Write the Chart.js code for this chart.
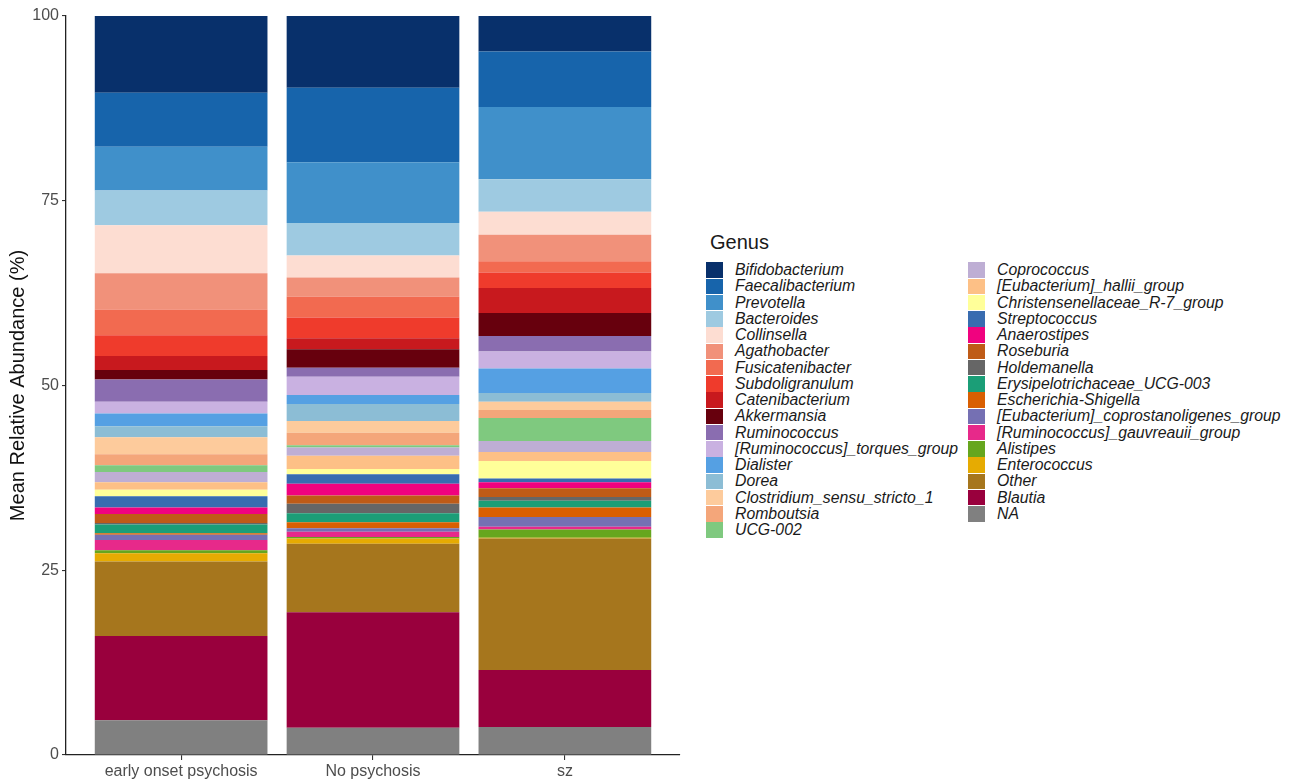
<!DOCTYPE html>
<html>
<head>
<meta charset="utf-8">
<script src="https://cdn.jsdelivr.net/npm/chart.js@4/dist/chart.umd.min.js"></script>
<style>
  html, body { margin: 0; padding: 0; background: #ffffff; }
  body { width: 1290px; height: 783px; position: relative; overflow: hidden;
         font-family: "Liberation Sans", Arial, sans-serif; }
  #plot { position: absolute; left: 0; top: 0; }
  #legend { position: absolute; left: 706px; top: 230px; color: #1a1a1a; }
  #legend .title { font-size: 20px; margin-left: 4px; height: 24px; line-height: 24px; margin-bottom: 8px; }
  #legend .cols { display: flex; }
  #legend .col { width: 262px; }
  #legend .item { display: flex; align-items: center; height: 16.25px; }
  #legend .sw { width: 17px; height: 15.5px; margin-right: 12px; flex: none; }
  #legend .lab { font-size: 15.8px; font-style: italic; white-space: nowrap; line-height: 16px; }
</style>
</head>
<body>
<canvas id="plot" width="690" height="783"></canvas>
<div id="legend"></div>
<script>
// Groups on the x axis
const categories = ["early onset psychosis", "No psychosis", "sz"];

// Genera, listed from the top of each stacked bar to the bottom
const genera = [
  "Bifidobacterium", "Faecalibacterium", "Prevotella", "Bacteroides", "Collinsella",
  "Agathobacter", "Fusicatenibacter", "Subdoligranulum", "Catenibacterium", "Akkermansia",
  "Ruminococcus", "[Ruminococcus]_torques_group", "Dialister", "Dorea",
  "Clostridium_sensu_stricto_1", "Romboutsia", "UCG-002", "Coprococcus",
  "[Eubacterium]_hallii_group", "Christensenellaceae_R-7_group", "Streptococcus",
  "Anaerostipes", "Roseburia", "Holdemanella", "Erysipelotrichaceae_UCG-003",
  "Escherichia-Shigella", "[Eubacterium]_coprostanoligenes_group",
  "[Ruminococcus]_gauvreauii_group", "Alistipes", "Enterococcus", "Other", "Blautia", "NA"
];

// Mean relative abundance (%) per genus, same order as `genera`
const earlyOnsetPsychosis = [
  10.4, 7.3, 5.9, 4.7, 6.5, 4.9, 3.5, 2.8, 1.9, 1.3,
  3.0, 1.6, 1.7, 1.5, 2.3, 1.5, 0.9, 1.4, 1.0, 0.9,
  1.5, 0.9, 1.2, 0.2, 1.2, 0.2, 0.7, 1.4, 0.4, 1.1,
  10.1, 11.4, 4.7
];
const noPsychosis = [
  9.7, 10.1, 8.2, 4.4, 3.0, 2.6, 2.8, 2.8, 1.5, 2.5,
  1.2, 2.5, 1.2, 2.3, 1.6, 1.7, 0.3, 1.1, 1.8, 0.7,
  1.3, 1.6, 1.1, 1.3, 1.2, 0.8, 0.5, 0.7, 0.2, 0.7,
  9.3, 15.6, 3.7
];
const sz = [
  4.8, 7.5, 9.8, 4.4, 3.1, 3.6, 1.5, 2.1, 3.4, 3.1,
  2.1, 2.3, 3.3, 1.2, 1.1, 1.1, 3.1, 1.5, 1.2, 2.4,
  0.5, 0.8, 1.2, 0.5, 0.9, 1.3, 1.3, 0.4, 1.1, 0.1,
  17.8, 7.7, 3.8
];
const groupValues = [earlyOnsetPsychosis, noPsychosis, sz];

// Y axis tick values
const yTicks = [0, 25, 50, 75, 100];

// Fill colour for each genus, same order as `genera`
const genusColors = [
  "#08306B", "#1764AB", "#4090CA", "#9ECAE1", "#FDDDD2",
  "#F1917A", "#F26A50", "#EF3B2C", "#C8191E", "#67000D",
  "#8A6DB0", "#C9B1E1", "#55A0E3", "#8CBDD5", "#FDCB9C",
  "#F4A67A", "#7FC97F", "#BEAED4", "#FDC086", "#FFFF99",
  "#386CB0", "#F0027F", "#BF5B17", "#666666", "#1B9E77",
  "#D95F02", "#7570B3", "#E7298A", "#66A61E", "#E6AB02",
  "#A6761D", "#99003D", "#808080"
];

// Datasets are stacked bottom-up, so build them from the last genus to the first
const datasets = [];
for (let g = genera.length - 1; g >= 0; g--) {
  datasets.push({
    label: genera[g],
    data: categories.map((c, i) => ({ x: i + 1, y: groupValues[i][g] })),
    backgroundColor: genusColors[g],
    borderWidth: 0,
    barPercentage: 0.9,
    categoryPercentage: 1.0
  });
}

const tickFont = { family: "'Liberation Sans', Arial, sans-serif", size: 16 };

const chart = new Chart(document.getElementById("plot"), {
  type: "bar",
  data: { datasets },
  options: {
    responsive: false,
    animation: false,
    layout: { padding: { top: 16, right: 10, bottom: 0, left: 0 } },
    plugins: { legend: { display: false }, tooltip: { enabled: false } },
    scales: {
      x: {
        type: "linear",
        stacked: true,
        min: 0.4,
        max: 3.6,
        offset: false,
        afterBuildTicks: (axis) => { axis.ticks = categories.map((c, i) => ({ value: i + 1 })); },
        afterFit: (axis) => { axis.height = 28; },
        ticks: {
          callback: (v) => categories[Math.round(v) - 1] || "",
          font: tickFont, color: "#4d4d4d", padding: 2, maxRotation: 0, autoSkip: false
        },
        grid: { drawOnChartArea: false, offset: false, color: "#333333", tickLength: 5, lineWidth: 1.1 },
        border: { display: true, color: "#222222", width: 1.3 }
      },
      y: {
        stacked: true,
        min: 0,
        max: 100,
        afterBuildTicks: (axis) => { axis.ticks = yTicks.map(v => ({ value: v })); },
        afterFit: (axis) => { axis.width = 66; },
        ticks: { font: tickFont, color: "#4d4d4d", padding: 3 },
        grid: { drawOnChartArea: false, color: "#333333", tickLength: 4, lineWidth: 1.1 },
        border: { display: true, color: "#222222", width: 1.3 },
        title: {
          display: true,
          text: "Mean Relative Abundance (%)",
          color: "#111111",
          font: { family: "'Liberation Sans', Arial, sans-serif", size: 20 },
          padding: { top: 6, bottom: 0 }
        }
      }
    }
  }
});

// Two-column legend built from the chart's datasets, top of the stack first
(function buildLegend() {
  const box = document.getElementById("legend");
  const title = document.createElement("div");
  title.className = "title";
  title.textContent = "Genus";
  box.appendChild(title);
  const cols = document.createElement("div");
  cols.className = "cols";
  box.appendChild(cols);
  const items = chart.data.datasets.slice().reverse();
  const perCol = Math.ceil(items.length / 2);
  for (let c = 0; c < 2; c++) {
    const col = document.createElement("div");
    col.className = "col";
    items.slice(c * perCol, (c + 1) * perCol).forEach(ds => {
      const row = document.createElement("div");
      row.className = "item";
      const sw = document.createElement("span");
      sw.className = "sw";
      sw.style.background = ds.backgroundColor;
      const lab = document.createElement("span");
      lab.className = "lab";
      lab.textContent = ds.label;
      row.appendChild(sw);
      row.appendChild(lab);
      col.appendChild(row);
    });
    cols.appendChild(col);
  }
})();
</script>
</body>
</html>
